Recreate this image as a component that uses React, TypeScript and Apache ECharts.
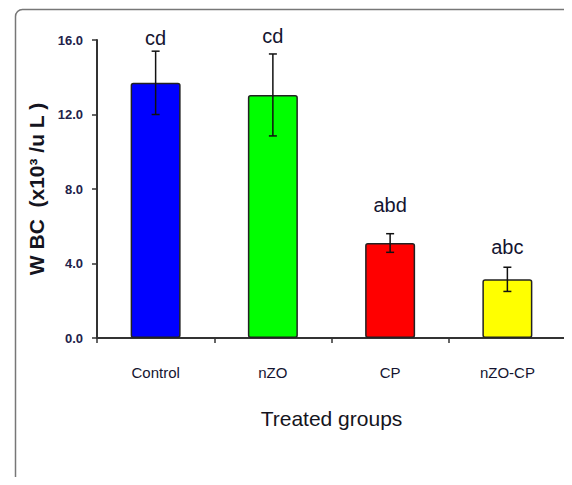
import React, { useEffect, useRef } from "react";
import * as echarts from "echarts";

const categories = ["Control", "nZO", "CP", "nZO-CP"];
const means = [13.7, 13.05, 5.1, 3.15];
const errors = [1.7, 2.2, 0.5, 0.65];
const letters = ["cd", "cd", "abd", "abc"];
const letterLevels = [16.1, 16.2, 7.15, 4.9];
const colors = ["#0000ff", "#00ff00", "#ff0000", "#ffff00"];
const yTicks = [0, 4, 8, 12, 16];

const FONT = "'Liberation Sans', Arial, sans-serif";

export default function App() {
  const ref = useRef<HTMLDivElement>(null);
  useEffect(() => {
    const chart = echarts.init(ref.current!, null, { renderer: "svg" });
    chart.setOption({
      animation: false,
      backgroundColor: "#ffffff",
      graphic: [
        {
          type: "rect",
          left: 13,
          top: 7,
          shape: { width: 700, height: 700, r: 7 },
          style: { fill: "none", stroke: "#777", lineWidth: 1.5 },
          silent: true,
          z: 0,
        },
      ],
      grid: { left: 97, right: 6, top: 40, bottom: 147 },
      xAxis: {
        type: "category",
        data: categories,
        axisLine: { lineStyle: { color: "#333", width: 2 } },
        axisTick: { show: true, length: 5, lineStyle: { color: "#333", width: 1.5 } },
        axisLabel: {
          margin: 27,
          color: "#141430",
          fontFamily: FONT,
          fontSize: 15,
        },
        name: "Treated groups",
        nameLocation: "middle",
        nameGap: 70,
        nameTextStyle: { color: "#141420", fontFamily: FONT, fontSize: 21 },
      },
      yAxis: {
        type: "value",
        min: 0,
        max: 16,
        interval: 4,
        splitLine: { show: false },
        axisLine: { show: true, lineStyle: { color: "#333", width: 2 } },
        axisTick: { show: true, length: 5, lineStyle: { color: "#333", width: 1.5 } },
        axisLabel: {
          margin: 14,
          color: "#22224a",
          fontFamily: FONT,
          fontWeight: "bold",
          fontSize: 13,
          formatter: (v: number) => (yTicks.includes(v) ? v.toFixed(1) : ""),
        },
        name: "W BC  (x10\u00b3 /u L )",
        nameLocation: "middle",
        nameGap: 43,
        nameRotate: 90,
        nameTextStyle: { color: "#141420", fontFamily: FONT, fontSize: 21, fontWeight: "bold" },
      },
      series: [
        {
          type: "bar",
          data: means.map((v, i) => ({
            value: v,
            itemStyle: { color: colors[i], borderColor: "#222", borderWidth: 1.5, borderRadius: 2 },
          })),
          barWidth: 50,
          z: 2,
        },
        {
          type: "custom",
          z: 5,
          data: means.map((v, i) => [i, v, errors[i], letterLevels[i]]),
          renderItem: (params: any, api: any) => {
            const i = api.value(0);
            const m = api.value(1);
            const e = api.value(2);
            const lv = api.value(3);
            const top = api.coord([i, m + e]);
            const bot = api.coord([i, m - e]);
            const lp = api.coord([i, lv]);
            const x = top[0];
            const hw = 4;
            const st = { stroke: "#111", lineWidth: 1.5 };
            return {
              type: "group",
              children: [
                { type: "line", shape: { x1: x, y1: top[1], x2: x, y2: bot[1] }, style: st },
                { type: "line", shape: { x1: x - hw, y1: top[1], x2: x + hw, y2: top[1] }, style: st },
                { type: "line", shape: { x1: x - hw, y1: bot[1], x2: x + hw, y2: bot[1] }, style: st },
                {
                  type: "text",
                  style: {
                    text: letters[params.dataIndex],
                    x: x,
                    y: lp[1],
                    align: "center",
                    verticalAlign: "middle",
                    fill: "#141430",
                    font: "20px " + FONT,
                  },
                },
              ],
            };
          },
        },
      ],
    });
    return () => chart.dispose();
  }, []);
  return <div ref={ref} style={{ width: 572, height: 485, margin: -8 }} />;
}
